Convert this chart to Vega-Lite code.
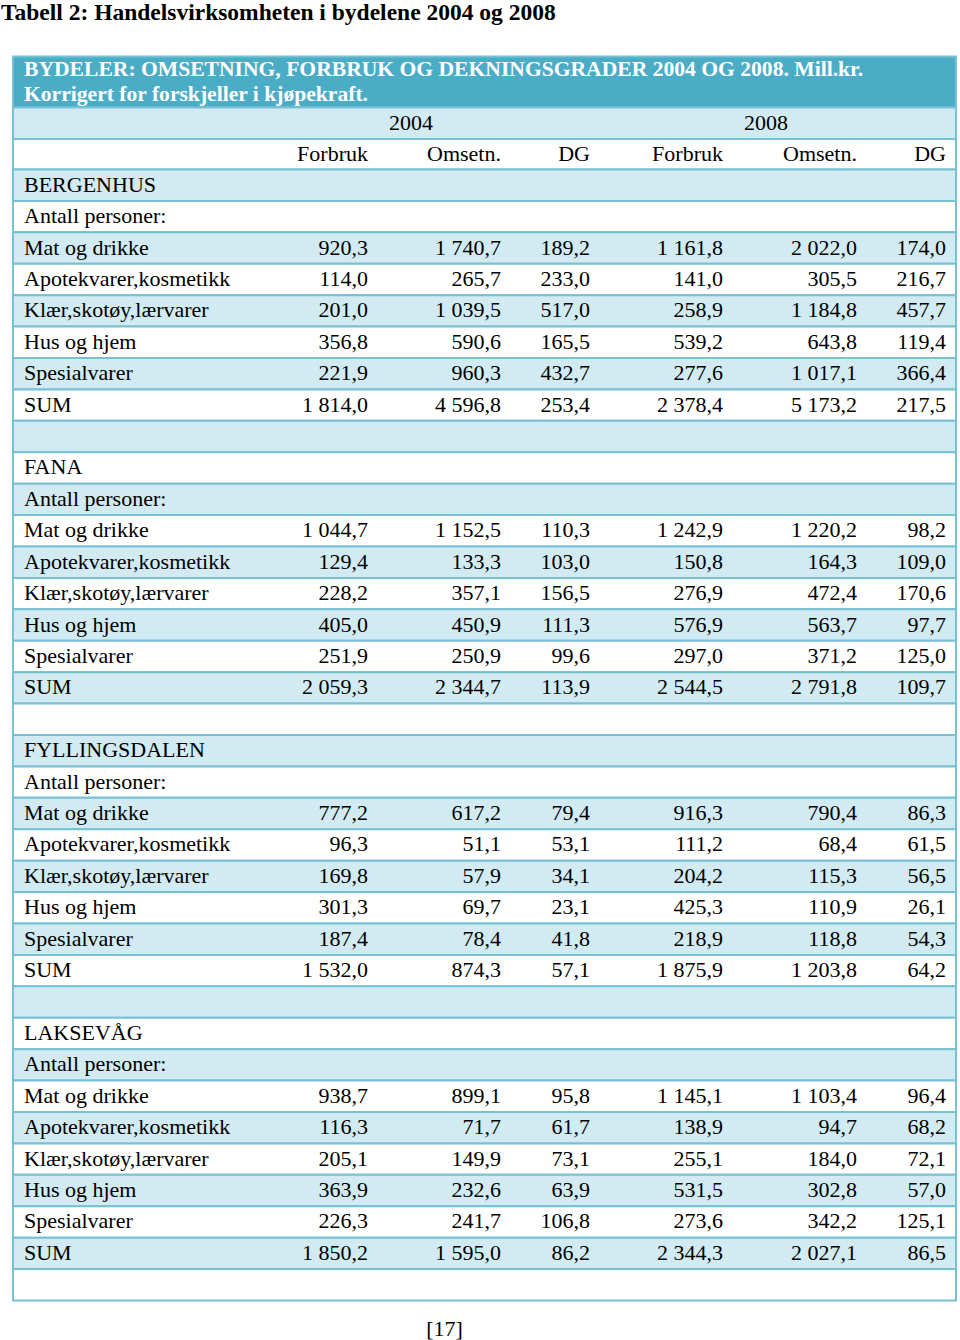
{
  "$schema": "https://vega.github.io/schema/vega-lite/v6.json",
  "width": 943,
  "height": 1244,
  "autosize": "none",
  "padding": {"left": 13, "top": 56, "right": 4, "bottom": 40},
  "background": "#FFFFFF",
  "title": {
    "text": "Tabell 2: Handelsvirksomheten i bydelene 2004 og 2008",
    "anchor": "start",
    "frame": "group",
    "dx": -12,
    "offset": 12,
    "baseline": "alphabetic",
    "font": "Liberation Serif",
    "fontSize": 23.5,
    "fontWeight": "bold",
    "color": "#000000"
  },
  "datasets": {
    "rows": [
      {"row": 0, "label": "BYDELER: OMSETNING, FORBRUK OG DEKNINGSGRADER 2004 OG 2008. Mill.kr.\nKorrigert for forskjeller i kjøpekraft."},
      {"row": 1},
      {"row": 2},
      {"row": 3, "label": "BERGENHUS"},
      {"row": 4, "label": "Antall personer:"},
      {"row": 5, "label": "Mat og drikke", "f04": 920.3, "o04": 1740.7, "dg04": 189.2, "f08": 1161.8, "o08": 2022.0, "dg08": 174.0},
      {"row": 6, "label": "Apotekvarer,kosmetikk", "f04": 114.0, "o04": 265.7, "dg04": 233.0, "f08": 141.0, "o08": 305.5, "dg08": 216.7},
      {"row": 7, "label": "Klær,skotøy,lærvarer", "f04": 201.0, "o04": 1039.5, "dg04": 517.0, "f08": 258.9, "o08": 1184.8, "dg08": 457.7},
      {"row": 8, "label": "Hus og hjem", "f04": 356.8, "o04": 590.6, "dg04": 165.5, "f08": 539.2, "o08": 643.8, "dg08": 119.4},
      {"row": 9, "label": "Spesialvarer", "f04": 221.9, "o04": 960.3, "dg04": 432.7, "f08": 277.6, "o08": 1017.1, "dg08": 366.4},
      {"row": 10, "label": "SUM", "f04": 1814.0, "o04": 4596.8, "dg04": 253.4, "f08": 2378.4, "o08": 5173.2, "dg08": 217.5},
      {"row": 11},
      {"row": 12, "label": "FANA"},
      {"row": 13, "label": "Antall personer:"},
      {"row": 14, "label": "Mat og drikke", "f04": 1044.7, "o04": 1152.5, "dg04": 110.3, "f08": 1242.9, "o08": 1220.2, "dg08": 98.2},
      {"row": 15, "label": "Apotekvarer,kosmetikk", "f04": 129.4, "o04": 133.3, "dg04": 103.0, "f08": 150.8, "o08": 164.3, "dg08": 109.0},
      {"row": 16, "label": "Klær,skotøy,lærvarer", "f04": 228.2, "o04": 357.1, "dg04": 156.5, "f08": 276.9, "o08": 472.4, "dg08": 170.6},
      {"row": 17, "label": "Hus og hjem", "f04": 405.0, "o04": 450.9, "dg04": 111.3, "f08": 576.9, "o08": 563.7, "dg08": 97.7},
      {"row": 18, "label": "Spesialvarer", "f04": 251.9, "o04": 250.9, "dg04": 99.6, "f08": 297.0, "o08": 371.2, "dg08": 125.0},
      {"row": 19, "label": "SUM", "f04": 2059.3, "o04": 2344.7, "dg04": 113.9, "f08": 2544.5, "o08": 2791.8, "dg08": 109.7},
      {"row": 20},
      {"row": 21, "label": "FYLLINGSDALEN"},
      {"row": 22, "label": "Antall personer:"},
      {"row": 23, "label": "Mat og drikke", "f04": 777.2, "o04": 617.2, "dg04": 79.4, "f08": 916.3, "o08": 790.4, "dg08": 86.3},
      {"row": 24, "label": "Apotekvarer,kosmetikk", "f04": 96.3, "o04": 51.1, "dg04": 53.1, "f08": 111.2, "o08": 68.4, "dg08": 61.5},
      {"row": 25, "label": "Klær,skotøy,lærvarer", "f04": 169.8, "o04": 57.9, "dg04": 34.1, "f08": 204.2, "o08": 115.3, "dg08": 56.5},
      {"row": 26, "label": "Hus og hjem", "f04": 301.3, "o04": 69.7, "dg04": 23.1, "f08": 425.3, "o08": 110.9, "dg08": 26.1},
      {"row": 27, "label": "Spesialvarer", "f04": 187.4, "o04": 78.4, "dg04": 41.8, "f08": 218.9, "o08": 118.8, "dg08": 54.3},
      {"row": 28, "label": "SUM", "f04": 1532.0, "o04": 874.3, "dg04": 57.1, "f08": 1875.9, "o08": 1203.8, "dg08": 64.2},
      {"row": 29},
      {"row": 30, "label": "LAKSEVÅG"},
      {"row": 31, "label": "Antall personer:"},
      {"row": 32, "label": "Mat og drikke", "f04": 938.7, "o04": 899.1, "dg04": 95.8, "f08": 1145.1, "o08": 1103.4, "dg08": 96.4},
      {"row": 33, "label": "Apotekvarer,kosmetikk", "f04": 116.3, "o04": 71.7, "dg04": 61.7, "f08": 138.9, "o08": 94.7, "dg08": 68.2},
      {"row": 34, "label": "Klær,skotøy,lærvarer", "f04": 205.1, "o04": 149.9, "dg04": 73.1, "f08": 255.1, "o08": 184.0, "dg08": 72.1},
      {"row": 35, "label": "Hus og hjem", "f04": 363.9, "o04": 232.6, "dg04": 63.9, "f08": 531.5, "o08": 302.8, "dg08": 57.0},
      {"row": 36, "label": "Spesialvarer", "f04": 226.3, "o04": 241.7, "dg04": 106.8, "f08": 273.6, "o08": 342.2, "dg08": 125.1},
      {"row": 37, "label": "SUM", "f04": 1850.2, "o04": 1595.0, "dg04": 86.2, "f08": 2344.3, "o08": 2027.1, "dg08": 86.5},
      {"row": 38}
    ],
    "columns": [
      {"key": "f04", "col": 1, "name": "Forbruk", "year": "2004"},
      {"key": "o04", "col": 2, "name": "Omsetn."},
      {"key": "dg04", "col": 3, "name": "DG"},
      {"key": "f08", "col": 4, "name": "Forbruk", "year": "2008"},
      {"key": "o08", "col": 5, "name": "Omsetn."},
      {"key": "dg08", "col": 6, "name": "DG"}
    ]
  },
  "layer": [
    {
      "data": {"name": "rows"},
      "mark": {"type": "rect", "stroke": "#78C0D4", "strokeWidth": 2},
      "encoding": {
        "y": {
          "field": "row",
          "type": "quantitative",
          "bin": {"step": 1, "anchor": -0.5, "extent": [-0.5, 38.5], "nice": false},
          "scale": {"domain": [-0.5, 0.5, 1.5, 2.5, 38.5], "range": [0, 51, 82.5, 113, 1244], "nice": false, "zero": false},
          "axis": null
        },
        "x": {
          "datum": -1,
          "type": "quantitative",
          "scale": {"domain": [-1, 0, 1, 2, 3, 4, 5, 6], "range": [0, 232, 365, 498, 587, 720, 854, 943], "nice": false, "zero": false},
          "axis": {
            "title": "[17]",
            "labels": false,
            "ticks": false,
            "domain": false,
            "grid": false,
            "titleFont": "Liberation Serif",
            "titleFontSize": 22,
            "titleFontWeight": "normal",
            "titleColor": "#000000",
            "titleX": 431,
            "titleY": 28,
            "titleBaseline": "middle",
            "titleAlign": "center"
          }
        },
        "x2": {"datum": 6},
        "fill": {
          "condition": [
            {"test": "datum.row === 0", "value": "#4BACC6"},
            {"test": "datum.row % 2 === 1", "value": "#D2EAF1"}
          ],
          "value": "#FFFFFF"
        }
      }
    },
    {
      "data": {"name": "rows"},
      "transform": [{"filter": "datum.row === 0"}],
      "mark": {"type": "text", "align": "left", "baseline": "middle", "dx": 11, "dy": -12, "fontSize": 21.6, "fontWeight": "bold", "color": "#FFFFFF", "lineBreak": "\n", "lineHeight": 25},
      "encoding": {
        "x": {"datum": -1, "type": "quantitative"},
        "y": {"field": "row", "type": "quantitative"},
        "text": {"field": "label"}
      }
    },
    {
      "data": {"name": "rows"},
      "transform": [{"filter": "datum.row > 0 && isValid(datum.label)"}],
      "mark": {"type": "text", "align": "left", "baseline": "middle", "dx": 11, "color": "#000000"},
      "encoding": {
        "x": {"datum": -1, "type": "quantitative"},
        "y": {"field": "row", "type": "quantitative"},
        "text": {"field": "label"}
      }
    },
    {
      "data": {"name": "columns"},
      "transform": [{"filter": "isValid(datum.year)"}],
      "mark": {"type": "text", "align": "left", "baseline": "middle", "dx": 11, "color": "#000000"},
      "encoding": {
        "x": {"field": "col", "type": "quantitative"},
        "y": {"datum": 1, "type": "quantitative"},
        "text": {"field": "year"}
      }
    },
    {
      "data": {"name": "columns"},
      "mark": {"type": "text", "align": "right", "baseline": "middle", "dx": -10, "color": "#000000"},
      "encoding": {
        "x": {"field": "col", "type": "quantitative"},
        "y": {"datum": 2, "type": "quantitative"},
        "text": {"field": "name"}
      }
    },
    {
      "data": {"name": "rows"},
      "transform": [
        {"fold": ["f04", "o04", "dg04", "f08", "o08", "dg08"], "as": ["key", "value"]},
        {"filter": "isValid(datum.value)"},
        {"lookup": "key", "from": {"data": {"name": "columns"}, "key": "key", "fields": ["col"]}}
      ],
      "mark": {"type": "text", "align": "right", "baseline": "middle", "dx": -10, "color": "#000000"},
      "encoding": {
        "x": {"field": "col", "type": "quantitative"},
        "y": {"field": "row", "type": "quantitative"},
        "text": {"field": "value", "type": "quantitative", "format": ",.1f"}
      }
    }
  ],
  "config": {
    "view": {"stroke": null},
    "locale": {"number": {"decimal": ",", "thousands": " ", "grouping": [3], "currency": ["", ""]}},
    "text": {"font": "Liberation Serif", "fontSize": 22}
  }
}
